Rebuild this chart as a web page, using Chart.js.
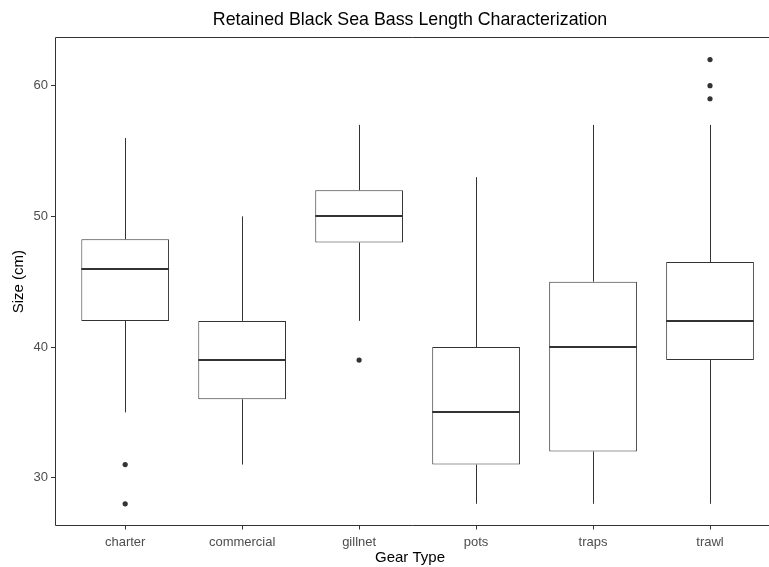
<!DOCTYPE html>
<html>
<head>
<meta charset="utf-8">
<script src="https://cdn.jsdelivr.net/npm/chart.js@4"></script>
<style>
  html, body { margin: 0; padding: 0; background: #fff; }
  #wrap { width: 769px; height: 567px; }
</style>
</head>
<body>
<div id="wrap"><canvas id="boxChart" width="769" height="567"></canvas></div>
<script>
// Box statistics per gear type (Size, cm)
const gearTypes = ['charter', 'commercial', 'gillnet', 'pots', 'traps', 'trawl'];
const whiskerLow = [35, 31, 42, 28, 28, 28];
const q1 = [42, 36, 48, 31, 32, 39];
const median = [46, 39, 50, 35, 40, 42];
const q3 = [48.25, 42, 52, 40, 45, 46.5];
const whiskerHigh = [56, 50, 57, 53, 57, 57];

// Outliers
const outlierGear = [0, 0, 2, 5, 5, 5];
const outlierSize = [31, 28, 39, 62, 60, 59];

const yTicks = [30, 40, 50, 60];

const ink = '#333333';
const fontFamily = 'Liberation Sans, Arial';

// whiskers, medians, panel border and x tick marks, drawn through the chart scales
const boxExtras = {
    id: 'boxExtras',
    afterDatasetsDraw(chart) {
        const ctx = chart.ctx;
        const x = chart.scales.x;
        const y = chart.scales.y;
        const meta = chart.getDatasetMeta(0);
        ctx.save();
        gearTypes.forEach((g, i) => {
            const bar = meta.data[i];
            const cx = Math.round(x.getPixelForValue(i)) + 0.5;
            const half = bar.width / 2;

            // whiskers
            ctx.strokeStyle = ink;
            ctx.lineWidth = 1;
            ctx.beginPath();
            ctx.moveTo(cx, y.getPixelForValue(q3[i]));
            ctx.lineTo(cx, y.getPixelForValue(whiskerHigh[i]));
            ctx.moveTo(cx, y.getPixelForValue(q1[i]));
            ctx.lineTo(cx, y.getPixelForValue(whiskerLow[i]));
            ctx.stroke();

            // median
            ctx.lineWidth = 2;
            const my = Math.round(y.getPixelForValue(median[i]));
            ctx.beginPath();
            ctx.moveTo(bar.x - half, my);
            ctx.lineTo(bar.x + half, my);
            ctx.stroke();
        });
        ctx.restore();
    },
    afterDraw(chart) {
        const a = chart.chartArea;
        const x = chart.scales.x;
        const ctx = chart.ctx;
        const l = Math.round(a.left) + 0.5;
        const t = Math.round(a.top) + 0.5;
        const b = Math.round(a.bottom) - 0.5;
        ctx.save();
        ctx.strokeStyle = ink;
        ctx.lineWidth = 1;
        ctx.beginPath();
        // panel border (right side falls outside the picture)
        ctx.moveTo(chart.width, t);
        ctx.lineTo(l, t);
        ctx.lineTo(l, b);
        ctx.lineTo(chart.width, b);
        // x tick marks
        gearTypes.forEach((g, i) => {
            const px = Math.round(x.getPixelForValue(i)) + 0.5;
            ctx.moveTo(px, b);
            ctx.lineTo(px, b + 4);
        });
        ctx.stroke();
        ctx.restore();
    }
};

const boxData = gearTypes.map((g, i) => ({ x: i, y: [q1[i], q3[i]] }));
const outlierData = outlierGear.map((g, i) => ({ x: g, y: outlierSize[i] }));

new Chart(document.getElementById('boxChart'), {
    type: 'bar',
    data: {
        datasets: [{
            label: 'box',
            data: boxData,
            backgroundColor: '#ffffff',
            borderColor: ink,
            borderWidth: 1,
            borderSkipped: false,
            categoryPercentage: 1,
            barPercentage: 0.75
        }, {
            type: 'scatter',
            label: 'outliers',
            data: outlierData,
            pointRadius: 2.6,
            pointBackgroundColor: ink,
            pointBorderColor: ink,
            pointBorderWidth: 0
        }]
    },
    options: {
        responsive: false,
        animation: false,
        layout: { padding: 0 },
        plugins: {
            legend: { display: false },
            tooltip: { enabled: false },
            title: {
                display: true,
                fullSize: false,
                text: 'Retained Black Sea Bass Length Characterization',
                color: '#000',
                font: { family: fontFamily, size: 17.8, weight: 'normal' },
                padding: { top: 9, bottom: 7 }
            }
        },
        scales: {
            x: {
                type: 'linear',
                offset: false,
                min: -0.6,
                max: 5.47,
                afterBuildTicks: (scale) => {
                    scale.ticks = gearTypes.map((g, i) => ({ value: i }));
                },
                afterFit: (scale) => { scale.height = 41; },
                grid: { display: false, drawTicks: true, tickLength: 4 },
                border: { display: false },
                ticks: {
                    autoSkip: false,
                    maxRotation: 0,
                    padding: 5,
                    color: '#4d4d4d',
                    font: { family: fontFamily, size: 13 },
                    callback: (v) => gearTypes[v]
                },
                title: {
                    display: true,
                    text: 'Gear Type',
                    color: '#000',
                    font: { family: fontFamily, size: 15 },
                    padding: { top: 0, bottom: 0 }
                }
            },
            y: {
                min: 26.3,
                max: 63.7,
                afterBuildTicks: (scale) => {
                    scale.ticks = yTicks.map(v => ({ value: v }));
                },
                afterFit: (scale) => { scale.width = 55; },
                grid: { drawOnChartArea: false, drawTicks: true, tickLength: 4, color: ink },
                border: { display: false },
                ticks: {
                    padding: 3,
                    color: '#4d4d4d',
                    font: { family: fontFamily, size: 13 }
                },
                title: {
                    display: true,
                    text: 'Size (cm)',
                    color: '#000',
                    font: { family: fontFamily, size: 15 },
                    padding: { top: 10, bottom: 0 }
                }
            }
        }
    },
    plugins: [boxExtras]
});
</script>
</body>
</html>
